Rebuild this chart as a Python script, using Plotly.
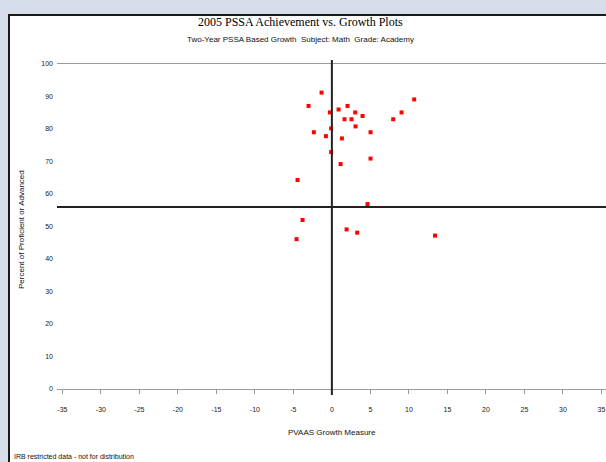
import plotly.graph_objects as go

# Data
growth = [-1.34, -3.03, -0.26, 0.87, 2.03, 3.03, 3.98, 2.55, 1.64, 3.07,
          5.02, -2.34, -0.09, -0.78, 1.30, -0.09, 1.13, 5.02, -4.46, 4.63,
          -3.81, -4.59, 1.91, 3.29, 13.4, 7.96, 9.05, 10.69]
achievement = [91.2, 87.1, 85.1, 86.0, 87.1, 85.1, 84.0, 83.0, 83.0, 80.8,
               79.0, 79.0, 80.2, 77.8, 77.1, 72.9, 69.2, 70.9, 64.3, 56.9,
               52.0, 46.1, 49.1, 48.1, 47.2, 83.0, 85.1, 89.1]
x_ticks = [-35, -30, -25, -20, -15, -10, -5, 0, 5, 10, 15, 20, 25, 30, 35]
y_ticks = [0, 10, 20, 30, 40, 50, 60, 70, 80, 90, 100]
mean_achievement = 56
mean_growth = 0

W, H = 606, 462
L, R, T, B = 57, 0, 64, 73
pw, ph = W - L - R, H - T - B

def px(xp):
    return (xp - L) / pw

def py(yp):
    return (H - B - yp) / ph

fig = go.Figure()
fig.add_trace(go.Scatter(
    x=growth, y=achievement, mode="markers",
    marker=dict(symbol="square", size=4, color="#FF0000", line=dict(width=0)),
    showlegend=False, cliponaxis=False,
))

shapes = [
    # white chart frame with dark border
    dict(type="rect", xref="paper", yref="paper", layer="below",
         x0=px(9), x1=px(640), y0=py(500), y1=py(15),
         fillcolor="white", line=dict(color="#1a1a1a", width=2)),
    # reference lines
    dict(type="line", xref="x", yref="paper", x0=mean_growth, x1=mean_growth,
         y0=py(60), y1=py(395), line=dict(color="#222222", width=2)),
    dict(type="line", xref="paper", yref="y", x0=0, x1=1,
         y0=mean_achievement, y1=mean_achievement,
         line=dict(color="#222222", width=2)),
]

annotations = [
    dict(text="2005 PSSA Achievement vs. Growth Plots", xref="paper", yref="paper",
         x=px(300), y=py(22), showarrow=False, xanchor="center", yanchor="middle",
         font=dict(family="Liberation Serif", size=12, color="#000000")),
    dict(text="Two-Year PSSA Based Growth  Subject: Math  Grade: Academy",
         xref="paper", yref="paper", x=px(300), y=py(40), showarrow=False,
         xanchor="center", yanchor="middle",
         font=dict(family="Liberation Sans", size=8, color="#111111")),
    dict(text="PVAAS Growth Measure", xref="paper", yref="paper",
         x=px(332), y=py(432), showarrow=False, xanchor="center", yanchor="middle",
         font=dict(family="Liberation Sans", size=8, color="#111111")),
    dict(text="Percent of Proficient or Advanced", xref="paper", yref="paper",
         x=px(21), y=py(230), showarrow=False, textangle=-90,
         xanchor="center", yanchor="middle",
         font=dict(family="Liberation Sans", size=8, color="#111111")),
    dict(text="IRB restricted data - not for distribution", xref="paper", yref="paper",
         x=px(12), y=py(456), showarrow=False, xanchor="left", yanchor="middle",
         font=dict(family="Liberation Sans", size=7, color="#111111")),
]

fig.update_layout(
    width=W, height=H,
    margin=dict(l=L, r=R, t=T, b=B, pad=0),
    paper_bgcolor="#D5DCEA",
    plot_bgcolor="white",
    shapes=shapes,
    annotations=annotations,
    xaxis=dict(range=[-35.7, 35.6], tickvals=x_ticks, ticktext=[str(v) for v in x_ticks],
               showgrid=False, zeroline=False, showline=True, mirror=True,
               linecolor="#9a9a9a", linewidth=1, ticks="outside", ticklen=4,
               tickcolor="#9a9a9a", ticklabelstandoff=10,
               tickfont=dict(family="Liberation Sans", size=7, color="#222222")),
    yaxis=dict(range=[0, 100], tickvals=y_ticks, ticktext=[str(v) for v in y_ticks],
               showgrid=False, zeroline=False, showline=False,
               ticks="", ticklabelstandoff=3,
               tickfont=dict(family="Liberation Sans", size=7, color="#222222")),
)

fig.write_html(
    "out.html",
    config={"displayModeBar": False},
    post_script="document.body.style.margin='0';document.body.style.overflow='hidden';",
)
